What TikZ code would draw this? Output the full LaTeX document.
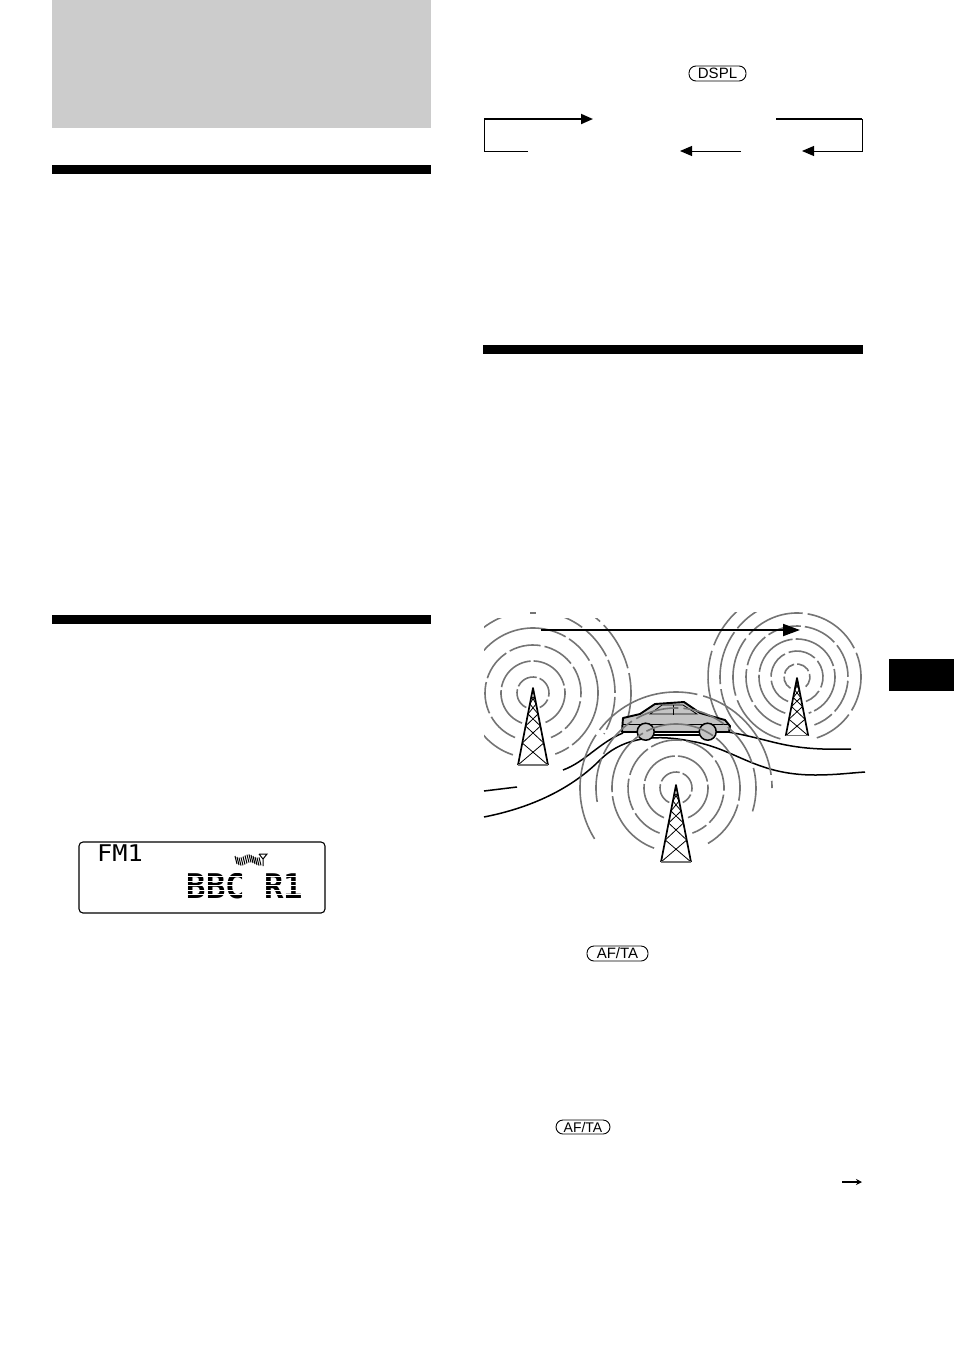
\documentclass[tikz,border=0pt]{standalone}
\usepackage{fontspec}
\setmainfont{Liberation Sans}
\newfontfamily\lcdfont{DejaVu Sans Mono}
\usetikzlibrary{arrows.meta}
\usetikzlibrary{positioning}

\definecolor{pagegray}{HTML}{CCCCCC}
\definecolor{ringgray}{HTML}{747474}
\definecolor{cargray}{HTML}{C4C4C4}

\tikzset{
  bar/.style={fill=black},
  ring/.style={draw=ringgray, line width=1.6pt},
  road/.style={draw=black, line width=1.5pt},
  button/.style={draw, rounded corners=7pt, line width=.9pt, inner sep=0pt, font=\fontsize{15}{15}\selectfont},
  flowthick/.style={line width=1.9pt},
  flowthin/.style={line width=1pt},
  tip/.style={-{Triangle[length=12pt,width=10pt]}},
  lcdtext/.style={font=\lcdfont\bfseries, inner sep=0pt},
  mast/.pic={
    \draw[line width=1.7pt, line join=round] (-15,77) -- (0,0) -- (15,77);
    \foreach \a/\b in {8/16,16/26,26/38,38/55,55/77}
      \draw[line width=.8pt] ({-15*\a/77},\a) -- ({15*\b/77},\b) ({15*\a/77},\a) -- ({-15*\b/77},\b);
    \draw[ringgray, line width=1.1pt] (-15,77) -- (15,77);
  }
}

\newcommand{\ringarc}[5]{\draw[ring, dash pattern=#5] ([shift={(#3:#2)}]#1) arc[start angle=#3, end angle=#4, radius=#2];}

\begin{document}
\begin{tikzpicture}[x=1pt,y=-1pt]
      \useasboundingbox (0,0) rectangle (954,1352);

      % page furniture
      \fill[pagegray] (52,0) rectangle (431,128);
      \fill[bar] (52,165) rectangle (431,174);
      \fill[bar] (52,615) rectangle (431,624);
      \fill[bar] (483,345) rectangle (863,354);
      \fill[bar] (889,659) rectangle (954,691);

      % display cycle
      \node[button, minimum width=57pt, minimum height=15pt] (dspl) at (717.5,73.5) {DSPL};
      \coordinate (ltop) at (484,119);
      \coordinate (lbot) at (484,151);
      \coordinate (lend) at (528,151);
      \coordinate (lhead) at (593,119);
      \coordinate (rtop) at (862,119);
      \coordinate (rbot) at (862,151);
      \coordinate (rstart) at (776,119);
      \coordinate (rhead) at (802,151);
      \coordinate (mstart) at (741,151);
      \coordinate (mhead) at (680,151);
      \draw[flowthin] (lend) -- (lbot) -- (ltop);
      \draw[flowthick, tip] (ltop) -- (lhead);
      \draw[flowthick] (rstart) -- (rtop);
      \draw[flowthin, tip] (rtop) -- (rbot) -- (rhead);
      \draw[flowthin, tip] (mstart) -- (mhead);

      % LCD panel
      \node[draw, line width=1.1pt, rounded corners=4pt, minimum width=246pt, minimum height=71pt, inner sep=0pt] (lcd) at (202,877.5) {};
      \node[lcdtext, font=\lcdfont\fontsize{23}{23}\selectfont, xscale=1.1] (fmlabel) at (120,853.5) {FM1};
      \node[lcdtext, font=\lcdfont\bfseries\fontsize{34}{34}\selectfont, xscale=.95] (station) at (245,886) {BBC R1};
      % scan lines give the dot matrix look
      \foreach \yy in {872,876.5,...,900} \draw[white, line width=.7pt] (186,\yy) -- (304,\yy);
      \foreach \xx in {0,2,...,24}
        \draw[line width=1pt] (235+\xx,{856+1.6*sin(\xx*20)}) -- (237+\xx,{864+1.6*sin(\xx*20)});
      \draw[line width=1pt] (259,854) -- (267,854) -- (263,859) -- (259,854) (263,859) -- (263,866);

      % transmitters, upper two
      \coordinate (towera) at (533,693);
      \coordinate (towerb) at (797,677);
      \coordinate (towerc) at (676,788);
      \begin{scope}
        \clip (484,618) rectangle (640,800);
        \ringarc{towera}{16}{115}{425}{on 22pt off 3pt}
        \ringarc{towera}{32}{110}{430}{on 42pt off 3pt}
        \ringarc{towera}{48}{112}{428}{on 32pt off 4pt}
        \ringarc{towera}{65}{108}{430}{on 90pt off 4pt on 30pt off 4pt}
        \ringarc{towera}{82}{-130}{30}{on 34pt off 4pt}
        \ringarc{towera}{98}{-76}{14}{on 50pt off 5pt}
      \end{scope}
      \ringarc{towera}{80}{-92}{-88}{on 6pt off 0pt}
      \begin{scope}
        \clip (700,612) rectangle (866,760);
        \ringarc{towerb}{13}{-240}{60}{on 14pt off 3pt}
        \ringarc{towerb}{26}{110}{430}{on 28pt off 4pt}
        \ringarc{towerb}{38}{108}{432}{on 50pt off 3pt}
        \ringarc{towerb}{51}{108}{430}{on 34pt off 4pt}
        \ringarc{towerb}{64}{105}{432}{on 60pt off 5pt}
        \ringarc{towerb}{77}{130}{262}{on 55pt off 5pt}
        \ringarc{towerb}{89}{152}{265}{on 70pt off 6pt}
      \end{scope}
      \pic at (533,688) {mast};
      \pic[scale=.75] at (797,678) {mast};

      % roads
      \coordinate (roadaa) at (563,770);
      \coordinate (roadab) at (623,733);
      \coordinate (roadba) at (728,732);
      \coordinate (roadbb) at (851,749);
      \coordinate (stuba) at (484,791);
      \coordinate (stubb) at (517,787);
      \coordinate (roadca) at (484,817);
      \coordinate (roadcb) at (865,772);
      \draw[road] (stuba) -- (stubb);
      \draw[road] (roadaa) .. controls (585,762) and (600,742) .. (roadab);
      \draw[road] (roadba) .. controls (775,740) and (785,751) .. (roadbb);
      \draw[road] (roadca) .. controls (545,805) and (580,780) .. (600,760)
        .. controls (625,735) and (660,735) .. (690,741)
        .. controls (735,748) and (755,775) .. (815,775)
        .. controls (835,775) and (850,773) .. (roadcb);

      % car
      \draw[line width=1.9pt, fill=cargray, line join=round] (622,731) -- (623,718) -- (640,714) -- (655,704)
        -- (684,702) -- (700,713) -- (725,720) -- (730,726) -- (729,732) -- (622,732) -- cycle;
      \draw[line width=.8pt, fill=cargray] (650,714) -- (662,705) -- (683,705) -- (697,714) -- cycle;
      \draw[line width=.8pt] (673,705) -- (673,715);
      \draw[line width=1pt] (623,724) -- (729,724);
      \draw[line width=1.8pt] (640,735) -- (715,735);
      \node[circle, draw, line width=1.5pt, fill=cargray, minimum size=17pt, inner sep=0pt] (wheelrear) at (645.7,731.7) {};
      \node[circle, draw, line width=1.5pt, fill=cargray, minimum size=17pt, inner sep=0pt] (wheelfront) at (707.7,731.7) {};

      % transmitter under the car
      \ringarc{towerc}{16}{115}{425}{on 22pt off 3pt}
      \ringarc{towerc}{32}{112}{428}{on 42pt off 3pt}
      \ringarc{towerc}{48}{110}{430}{on 32pt off 4pt}
      \ringarc{towerc}{64}{110}{420}{on 70pt off 4pt}
      \ringarc{towerc}{80}{170}{380}{on 44pt off 5pt}
      \ringarc{towerc}{96}{148}{360}{on 110pt off 6pt}
      \pic at (676,785) {mast};

      % travel direction
      \coordinate (trackstart) at (541,630);
      \coordinate (trackend) at (800,630);
      \draw[line width=1.9pt, -{Triangle[length=17pt,width=12pt]}] (trackstart) -- (trackend);

      % buttons
      \node[button, minimum width=61pt, minimum height=15pt] (aftaone) at (617.5,953.5) {AF/TA};
      \node[button, minimum width=54pt, minimum height=14pt, font=\fontsize{14}{14}\selectfont] (aftatwo) at (583,1127) {AF/TA};

      % continue mark
      \coordinate (contstart) at (842,1182);
      \coordinate (contend) at (862,1182);
      \draw[line width=1.2pt, -{Stealth[length=6pt,width=6pt]}] (contstart) -- (contend);
    \end{tikzpicture}
\end{document}
